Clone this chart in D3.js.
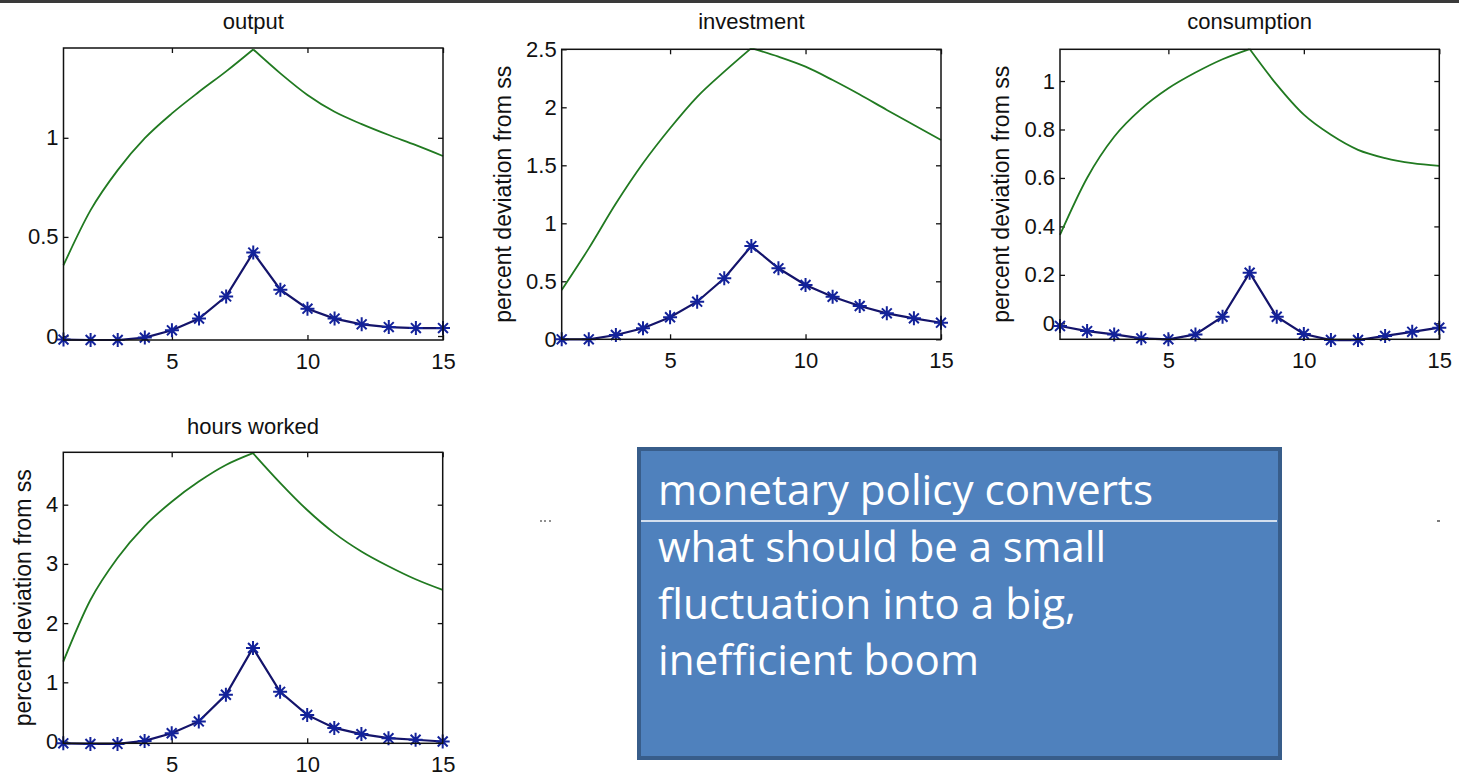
<!DOCTYPE html>
<html>
<head>
<meta charset="utf-8">
<script src="https://cdn.jsdelivr.net/npm/d3@7"></script>
<style>
html,body{margin:0;padding:0;background:#fff;}
svg{display:block;}
</style>
</head>
<body>
<svg id="chart" width="1459" height="780"></svg>
<script>
// ---- data ----
const periods = [1,2,3,4,5,6,7,8,9,10,11,12,13,14,15];
const xTicks = [5,10,15];

const outputGreen = [0.357,0.635,0.837,0.998,1.123,1.232,1.335,1.446,1.325,1.216,1.131,1.069,1.014,0.963,0.908];
const outputBlue  = [-0.018,-0.02,-0.02,-0.008,0.029,0.088,0.2,0.421,0.234,0.138,0.088,0.059,0.045,0.04,0.04];
const outputTicks = [0,0.5,1];

const investGreen = [0.425,0.784,1.17,1.517,1.819,2.09,2.307,2.51,2.436,2.35,2.235,2.11,1.977,1.847,1.718];
const investBlue  = [0,0,0.037,0.095,0.19,0.324,0.526,0.804,0.612,0.468,0.367,0.287,0.224,0.181,0.143];
const investTicks = [0,0.5,1,1.5,2,2.5];

const consGreen = [0.365,0.60,0.77,0.885,0.97,1.035,1.09,1.132,0.985,0.861,0.778,0.716,0.682,0.661,0.65];
const consBlue  = [-0.011,-0.032,-0.046,-0.062,-0.066,-0.046,0.027,0.209,0.027,-0.044,-0.069,-0.069,-0.052,-0.035,-0.018];
const consTicks = [0,0.2,0.4,0.6,0.8,1];

const hoursGreen = [1.35,2.39,3.10,3.64,4.05,4.39,4.67,4.87,4.37,3.91,3.52,3.21,2.96,2.74,2.56];
const hoursBlue  = [-0.03,-0.04,-0.04,0.01,0.14,0.34,0.79,1.58,0.84,0.45,0.23,0.125,0.057,0.03,0.0];
const hoursTicks = [0,1,2,3,4];

const yLabel = "percent deviation from ss";
const boxLines = ["monetary policy converts","what should be a small","fluctuation into a big,","inefficient boom"];

// ---- drawing ----
const svg = d3.select("#chart");
const FONT = "'Liberation Sans', Arial, Helvetica, sans-serif";
const GREEN = "#217a21", NAVY = "#14146b", STAR = "#13229a";

// top dark strip
svg.append("rect").attr("x",0).attr("y",0).attr("width",1459).attr("height",3).attr("fill","#3a3a3a");

const panels = [
  {title:"output", green:outputGreen, blue:outputBlue, ticks:outputTicks, dom:[-0.02,1.453],
   box:[63.5,48,443,340], ylab:false, titleY:29},
  {title:"investment", green:investGreen, blue:investBlue, ticks:investTicks, dom:[0,2.5],
   box:[561.7,49.3,941,339.3], ylab:true, labX:503, titleY:29},
  {title:"consumption", green:consGreen, blue:consBlue, ticks:consTicks, dom:[-0.066,1.131],
   box:[1060,49.3,1439.3,339.3], ylab:true, labX:1001, titleY:29},
  {title:"hours worked", green:hoursGreen, blue:hoursBlue, ticks:hoursTicks, dom:[-0.03,4.885],
   box:[63.3,452.3,442.7,743.3], ylab:true, labX:23, titleY:434}
];

function starPath(r){
  const d = r*0.7071;
  return `M${-r},0L${r},0M0,${-r}L0,${r}M${-d},${-d}L${d},${d}M${-d},${d}L${d},${-d}`;
}

panels.forEach(p=>{
  const [x0,y0,x1,y1] = p.box;
  const x = d3.scaleLinear().domain([1,15]).range([x0,x1]);
  const y = d3.scaleLinear().domain(p.dom).range([y1,y0]);
  const g = svg.append("g");
  const clipId = "clip-"+p.title.replace(/\s/g,"");
  svg.append("clipPath").attr("id",clipId).append("rect")
    .attr("x",x0-8).attr("y",y0-1).attr("width",x1-x0+16).attr("height",y1-y0+9);

  // axes with inward ticks (MATLAB style)
  const axL = d3.axisLeft(y).tickValues(p.ticks).tickSizeInner(-5).tickSizeOuter(0).tickPadding(5).tickFormat(d3.format("~g"));
  const axR = d3.axisRight(y).tickValues(p.ticks).tickSizeInner(-5).tickSizeOuter(0).tickFormat("");
  const axB = d3.axisBottom(x).tickValues(xTicks).tickSizeInner(-5).tickSizeOuter(0).tickPadding(13).tickFormat(d3.format("d"));
  const axT = d3.axisTop(x).tickValues(xTicks).tickSizeInner(-5).tickSizeOuter(0).tickFormat("");

  const styleAx = sel=>{
    sel.selectAll("path.domain").remove();
    sel.selectAll("line").attr("stroke","#111").attr("stroke-width",1.3);
    sel.selectAll("text").attr("font-family",FONT).attr("font-size",22).attr("fill","#111");
  };
  g.append("g").attr("transform",`translate(${x0},0)`).call(axL).call(styleAx);
  g.append("g").attr("transform",`translate(${x1},0)`).call(axR).call(styleAx);
  g.append("g").attr("transform",`translate(0,${y1})`).call(axB).call(styleAx);
  g.append("g").attr("transform",`translate(0,${y0})`).call(axT).call(styleAx);

  // series
  const pts = arr => arr.map((v,i)=>[periods[i],v]);
  const smooth = d3.line().curve(d3.curveMonotoneX).x(d=>x(d[0])).y(d=>y(d[1]));
  const straight = d3.line().x(d=>x(d[0])).y(d=>y(d[1]));
  const plot = g.append("g").attr("clip-path",`url(#${clipId})`);
  const gp = pts(p.green);
  const peak = d3.maxIndex(p.green);
  [gp.slice(0,peak+1), gp.slice(peak)].forEach(seg=>{
    plot.append("path").datum(seg).attr("d",smooth)
      .attr("fill","none").attr("stroke",GREEN).attr("stroke-width",1.8);
  });
  const bp = pts(p.blue);
  plot.append("path").datum(bp).attr("d",straight)
    .attr("fill","none").attr("stroke",NAVY).attr("stroke-width",2.2);
  plot.selectAll("path.star").data(bp).join("path").attr("class","star")
    .attr("transform",d=>`translate(${x(d[0])},${y(d[1])})`)
    .attr("d",starPath(7)).attr("stroke",STAR).attr("stroke-width",2).attr("fill","none");

  // box frame
  g.append("rect").attr("x",x0).attr("y",y0).attr("width",x1-x0).attr("height",y1-y0)
    .attr("fill","none").attr("stroke","#111").attr("stroke-width",1.5);

  // title
  g.append("text").attr("x",(x0+x1)/2).attr("y",p.titleY).attr("text-anchor","middle")
    .attr("font-family",FONT).attr("font-size",22).attr("fill","#111").text(p.title);

  // y label
  if(p.ylab){
    g.append("text").attr("transform",`translate(${p.labX},${(y0+y1)/2}) rotate(-90)`)
      .attr("text-anchor","middle").attr("dominant-baseline","central")
      .attr("font-family",FONT).attr("font-size",23).attr("fill","#111").text(yLabel);
  }
});

// text box
const bx = 637, by = 447, bw = 645, bh = 313;
svg.append("rect").attr("x",bx+2).attr("y",by+2).attr("width",bw-4).attr("height",bh-4)
  .attr("fill","#4f81bd").attr("stroke","#385d8a").attr("stroke-width",4);

// stray scan line across the figure
svg.append("line").attr("x1",bx+4).attr("x2",bx+bw-5).attr("y1",521).attr("y2",521)
  .attr("stroke","#fff").attr("stroke-width",1.5);
[[540,542],[544,546],[549,551],[1437,1440]].forEach(s=>{
  svg.append("line").attr("x1",s[0]).attr("x2",s[1]).attr("y1",521).attr("y2",521)
    .attr("stroke","#222").attr("stroke-width",1.2);
});

const lineWidths = [495, 448, 418, 321];
const baselines = [505, 562, 619, 675];
boxLines.forEach((t,i)=>{
  svg.append("text").attr("x",658).attr("y",baselines[i])
    .attr("font-family","'Open Sans', 'Noto Sans', sans-serif").attr("font-size",42)
    .attr("fill","#fff").attr("textLength",lineWidths[i]).attr("lengthAdjust","spacingAndGlyphs")
    .text(t);
});
</script>
</body>
</html>
